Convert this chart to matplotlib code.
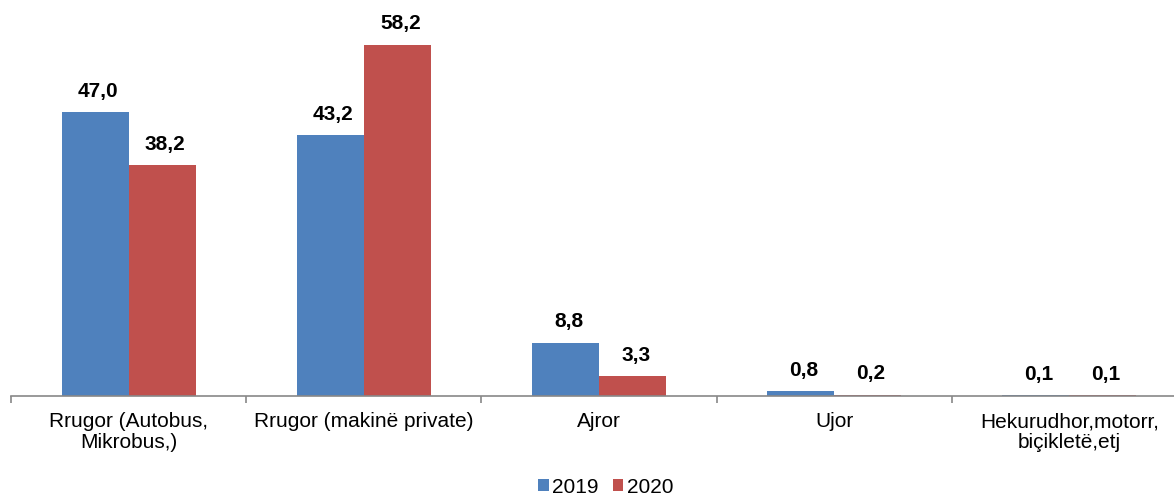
import matplotlib.pyplot as plt
import numpy as np

plt.rcParams['font.family'] = ['Liberation Sans', 'DejaVu Sans']

categories = ['Rrugor (Autobus,\nMikrobus,)', 'Rrugor (makinë private)', 'Ajror', 'Ujor',
              'Hekurudhor,motorr,\nbiçikletë,etj']
vals_2019 = [47.0, 43.2, 8.8, 0.8, 0.1]
vals_2020 = [38.2, 58.2, 3.3, 0.2, 0.1]
series = ['2019', '2020']
colors = ['#4F81BD', '#C0504D']

fig = plt.figure(figsize=(11.74, 5.02), dpi=100)
ax = fig.add_axes([11 / 1174, 105 / 502, 1176 / 1174, 387 / 502])

x = np.arange(len(categories))
w = 0.285
b1 = ax.bar(x - w / 2, vals_2019, w, color=colors[0], label=series[0])
b2 = ax.bar(x + w / 2, vals_2020, w, color=colors[1], label=series[1])

for bars, vals in [(b1, vals_2019), (b2, vals_2020)]:
    for r, v in zip(bars, vals):
        ax.annotate(f'{v:.1f}'.replace('.', ','), (r.get_x() + r.get_width() / 2, r.get_height()),
                    xytext=(2.2, 9), textcoords='offset points', ha='center', va='bottom',
                    fontsize=15, fontweight='bold')

ax.set_xlim(-0.5, len(categories) - 0.5)
ax.set_ylim(0, 64.1)
ax.set_yticks([])
ax.set_xticks(np.arange(len(categories) + 1) - 0.5)
ax.set_xticklabels([])
ax.set_xticks(x, minor=True)
ax.set_xticklabels(categories, minor=True, fontsize=15, linespacing=1.12, multialignment='center')
ax.tick_params(axis='x', which='minor', length=0, pad=11)
ax.tick_params(axis='x', which='major', length=5, color='#888888', width=1.2)
for s in ['top', 'right', 'left']:
    ax.spines[s].set_visible(False)
ax.spines['bottom'].set_color('#888888')
ax.spines['bottom'].set_linewidth(1.2)

fig.legend(loc='lower center', bbox_to_anchor=(0.516, -0.028), ncol=2, frameon=False,
           fontsize=15, handlelength=0.5, handleheight=0.5, handletextpad=0.15, columnspacing=0.7)

plt.savefig('out.png')
